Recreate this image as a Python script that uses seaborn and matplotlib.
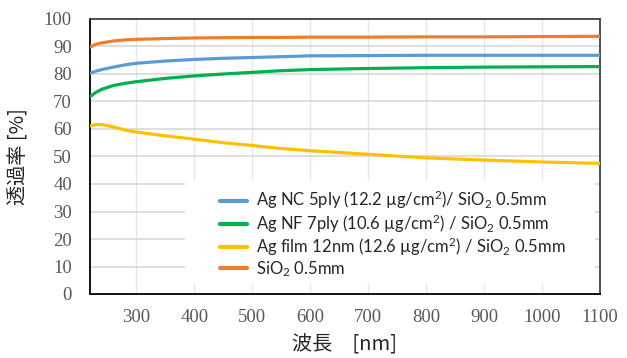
import pandas as pd
import matplotlib
matplotlib.use('Agg')
import matplotlib.pyplot as plt
from matplotlib.patches import Rectangle
import seaborn as sns

# ---- data ----
wavelength = [220, 230, 240, 260, 280, 300, 350, 400, 450, 500, 550, 600, 700, 800, 900, 1000, 1100]
ag_nc  = [80.3, 81.0, 81.6, 82.5, 83.3, 83.9, 84.7, 85.3, 85.7, 86.0, 86.3, 86.6, 86.7, 86.8, 86.8, 86.8, 86.8]
ag_nf  = [71.8, 73.3, 74.4, 75.8, 76.6, 77.2, 78.4, 79.3, 80.0, 80.6, 81.2, 81.6, 82.0, 82.3, 82.5, 82.6, 82.7]
ag_film = [61.1, 61.6, 61.6, 60.8, 59.6, 58.9, 57.5, 56.3, 55.0, 54.0, 52.9, 52.1, 50.8, 49.5, 48.7, 48.0, 47.5]
sio2   = [89.8, 90.8, 91.3, 92.0, 92.4, 92.6, 92.9, 93.1, 93.2, 93.3, 93.3, 93.4, 93.4, 93.5, 93.5, 93.6, 93.7]

labels = [r'Ag NC 5ply (12.2 µg/cm$^2$)/ SiO$_2$ 0.5mm',
          r'Ag NF 7ply (10.6 µg/cm$^2$) / SiO$_2$ 0.5mm',
          r'Ag film 12nm (12.6 µg/cm$^2$) / SiO$_2$ 0.5mm',
          r'SiO$_2$ 0.5mm']
colors = ['#5B9BD5', '#00B050', '#FFC000', '#ED7D31']

frames = []
for lab, vals in zip(labels, [ag_nc, ag_nf, ag_film, sio2]):
    frames.append(pd.DataFrame({'wl': wavelength, 'T': vals, 'sample': lab}))
df = pd.concat(frames, ignore_index=True)

sns.set_style('white')
plt.rcParams['mathtext.fontset'] = 'custom'
plt.rcParams['mathtext.rm'] = 'Lato'
plt.rcParams['mathtext.it'] = 'Lato:italic'

fig = plt.figure(figsize=(6.27, 3.58), dpi=100)
ax = fig.add_axes([90/627, 64/358, 510/627, 275/358])

sns.lineplot(data=df, x='wl', y='T', hue='sample', hue_order=labels,
             palette=dict(zip(labels, colors)), linewidth=2.3, ax=ax, zorder=3)

ax.set_xlim(220, 1100)
ax.set_ylim(0, 100)
ax.set_xticks(range(300, 1101, 100))
ax.set_yticks(range(0, 101, 10))
for x in range(300, 1001, 100):
    ax.axvline(x, color='#E6E6E6', lw=1, zorder=1)
for y in range(10, 100, 10):
    ax.axhline(y, color='#D4D4D4', lw=1.1, zorder=1)

# white box behind the legend (hides the grid there)
ax.add_patch(Rectangle((95/510, 10/275), 410/510, 104/275, transform=ax.transAxes,
                       facecolor='white', edgecolor='none', zorder=2))

for s in ax.spines.values():
    s.set_color('#404040')
    s.set_linewidth(1.3)
ax.spines['left'].set_color('black')
ax.spines['bottom'].set_color('black')

ax.tick_params(length=0, labelsize=13.5, labelcolor='#595959')
ax.tick_params(axis='x', pad=11)
ax.tick_params(axis='y', pad=13)
for t in ax.get_xticklabels() + ax.get_yticklabels():
    t.set_family('Liberation Serif')

ax.set_xlabel('波長　[nm]', family=['Noto Sans CJK JP', 'DejaVu Sans'], fontsize=14.5, labelpad=6)
ax.set_ylabel('透過率 [%]', family=['Noto Sans CJK JP', 'DejaVu Sans'], fontsize=14.5, labelpad=10)

leg = ax.legend(loc='upper left', bbox_to_anchor=(130/510, 105/275), frameon=False,
                prop={'family': 'Lato', 'size': 12}, handlelength=1.6,
                handletextpad=0.55, labelspacing=0.06, borderpad=0, borderaxespad=0)
for h in leg.get_lines():
    h.set_linewidth(3)
leg.set_zorder(5)

fig.savefig('out.png', dpi=100)
